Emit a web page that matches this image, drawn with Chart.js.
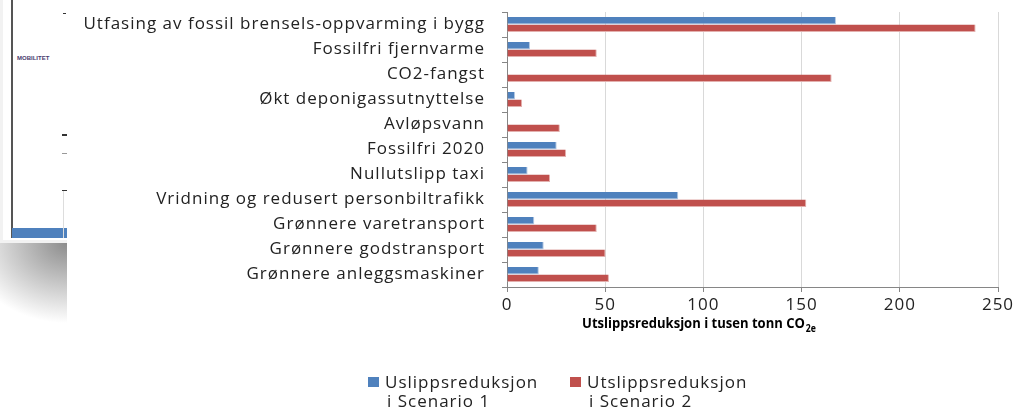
<!DOCTYPE html>
<html>
<head>
<meta charset="utf-8">
<script src="https://cdn.jsdelivr.net/npm/chart.js@4"></script>
<style>
  body { margin: 0; background: #fff; }
  #wrap { position: relative; width: 1019px; height: 411px; overflow: hidden; }
  #chart { position: absolute; left: 0; top: 0; }
  .deco { position: absolute; }
</style>
</head>
<body>
<div id="wrap">
  <canvas id="chart" width="1019" height="411"></canvas>
  <!-- slide edge on the left -->
  <div class="deco" style="left:0;top:0;width:67px;height:243px;background:#f2f2f2;"></div>
  <div class="deco" style="left:3px;top:0;width:64px;height:240px;background:#fff;"></div>
  <div class="deco" style="left:11px;top:0;width:2px;height:238px;background:#555;"></div>
  <div class="deco" style="left:12px;top:228px;width:55px;height:10px;background:#4f81bd;"></div>
  <div class="deco" style="left:17px;top:55px;font:bold 6px 'Liberation Sans';color:#4a3b6e;">MOBILITET</div>
  <div class="deco" style="left:63px;top:13px;width:3px;height:1px;background:#333;"></div>
  <div class="deco" style="left:62px;top:134px;width:5px;height:2px;background:#333;"></div>
  <div class="deco" style="left:62px;top:153px;width:5px;height:1px;background:#999;"></div>
  <div class="deco" style="left:62px;top:190px;width:5px;height:1px;background:#333;"></div>
  <div class="deco" style="left:63px;top:191px;width:1px;height:47px;background:#ddd;"></div>
  <div class="deco" style="left:0;top:243px;width:67px;height:90px;background:radial-gradient(ellipse 100px 80px at 67px 0px, #8c8c8c 0%, #fff 100%);"></div>
</div>
<script>
const categories = [
  'Utfasing av fossil brensels-oppvarming i bygg',
  'Fossilfri fjernvarme',
  'CO2-fangst',
  'Økt deponigassutnyttelse',
  'Avløpsvann',
  'Fossilfri 2020',
  'Nullutslipp taxi',
  'Vridning og redusert personbiltrafikk',
  'Grønnere varetransport',
  'Grønnere godstransport',
  'Grønnere anleggsmaskiner'
];
const scenario1 = [167.5, 11.7, 0, 4.1, 0, 25.3, 10.5, 87.2, 13.9, 18.7, 16.2];
const scenario2 = [238.6, 45.7, 165.3, 7.7, 26.9, 30.1, 21.9, 152.4, 45.7, 50.2, 51.9];
const seriesLabels = ['Uslippsreduksjon\ni Scenario 1', 'Utslippsreduksjon\ni Scenario 2'];
const xTicks = [0, 50, 100, 150, 200, 250];
const axisTitle = 'Utslippsreduksjon i tusen tonn CO';
const axisTitleSub = '2e';

const labelFont = "'Open Sans'";
const spacing = '1px';

// the original text is a bit wide, so space the letters out a little.
// canvas resize wipes the ctx state, so set it again before every layout
const wideText = {
  id: 'wideText',
  beforeUpdate(chart) { chart.ctx.letterSpacing = spacing; },
  beforeDraw(chart) { chart.ctx.letterSpacing = spacing; }
};

// axis title with subscript + two-line legend
const extras = {
  id: 'extras',
  afterDraw(chart) {
    const ctx = chart.ctx;
    ctx.save();
    ctx.letterSpacing = '0px';
    ctx.fillStyle = '#000';
    ctx.textBaseline = 'alphabetic';
    ctx.font = 'bold 15px ' + labelFont;
    const w1 = ctx.measureText(axisTitle).width;
    ctx.font = 'bold 10px ' + labelFont;
    const w2 = ctx.measureText(axisTitleSub).width;
    const sx = 0.87;
    const x0 = 699 - sx * (w1 + w2 + 1) / 2;
    ctx.translate(x0, 0);
    ctx.scale(sx, 1);
    ctx.font = 'bold 15px ' + labelFont;
    ctx.fillText(axisTitle, 0, 328);
    ctx.font = 'bold 10px ' + labelFont;
    ctx.fillText(axisTitleSub, w1 + 1, 332);
    ctx.restore();

    ctx.save();
    ctx.letterSpacing = spacing;
    const pos = [368, 570];
    ctx.font = '17px ' + labelFont;
    ctx.textBaseline = 'middle';
    chart.data.datasets.forEach((ds, i) => {
      ctx.fillStyle = ds.backgroundColor;
      ctx.fillRect(pos[i], 377, 11, 10);
      ctx.fillStyle = '#222';
      const lines = ds.label.split('\n');
      ctx.fillText(lines[0], pos[i] + 17, 383);
      ctx.fillText(lines[1], pos[i] + 19, 402);
    });
    ctx.restore();
  }
};

const config = {
  type: 'bar',
  data: {
    labels: categories,
    datasets: [{
      label: seriesLabels[0],
      data: scenario1,
      backgroundColor: '#4f81bd',
      borderColor: '#b3c8e2',
      borderWidth: { right: 1, bottom: 1 },
      borderSkipped: false,
      categoryPercentage: 0.6,
      barPercentage: 1
    }, {
      label: seriesLabels[1],
      data: scenario2,
      backgroundColor: '#c0504d',
      borderColor: '#e3b0ae',
      borderWidth: { right: 1, bottom: 1 },
      borderSkipped: false,
      categoryPercentage: 0.6,
      barPercentage: 1
    }]
  },
  options: {
    indexAxis: 'y',
    responsive: false,
    animation: false,
    layout: { padding: { top: 12, right: 21, left: 0, bottom: 0 } },
    plugins: {
      legend: { display: false },
      tooltip: { enabled: false }
    },
    scales: {
      x: {
        min: 0,
        max: 250,
        afterBuildTicks(scale) {
          scale.ticks = xTicks.map(v => ({ value: v }));
        },
        afterFit(scale) { scale.height = 124; },
        grid: { color: '#d9d9d9', lineWidth: 1, tickLength: 5, tickColor: '#868686' },
        border: { color: '#868686' },
        ticks: { color: '#222', font: { family: labelFont, size: 17 }, padding: 3, maxRotation: 0 }
      },
      y: {
        afterFit(scale) {
          scale.width = 507;
          scale.paddingTop = 0;
          scale.paddingBottom = 0;
        },
        grid: { drawOnChartArea: false, tickLength: 5, tickColor: '#868686' },
        border: { color: '#868686' },
        ticks: { color: '#222', font: { family: labelFont, size: 17 }, padding: 17, autoSkip: false }
      }
    }
  },
  plugins: [wideText, extras]
};

const chart = new Chart(document.getElementById('chart'), config);
</script>
</body>
</html>
